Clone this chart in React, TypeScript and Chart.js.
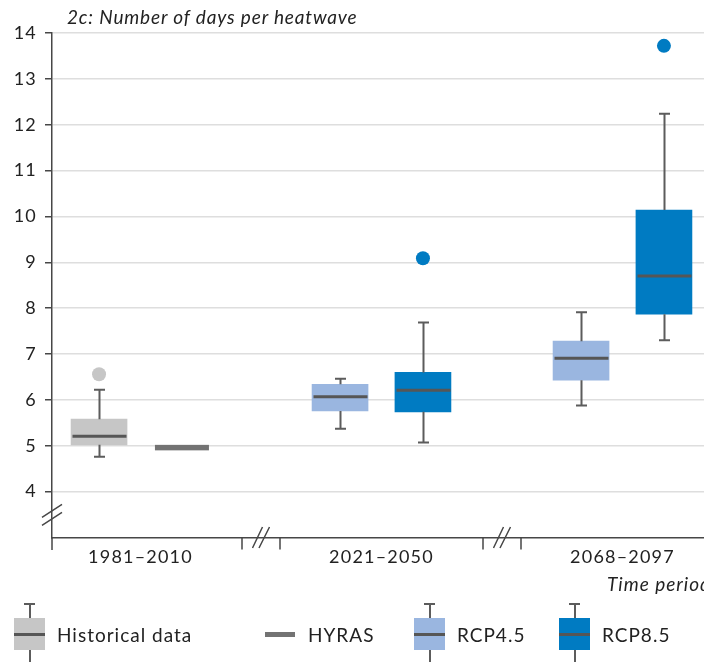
import React, { useEffect, useRef } from "react";
import { Chart, registerables } from "chart.js";

Chart.register(...registerables);

// ---------- data ----------
const periods = ["1981–2010", "2021–2050", "2068–2097"];
const yTickValues = [3, 4, 5, 6, 7, 8, 9, 10, 11, 12, 13, 14];

// box statistics per period: [min, q1, median, q3, max]
const historicalPeriods = [0];
const historicalStats = [[4.76, 5.02, 5.21, 5.58, 6.22]];
const historicalOutliers = [[6.56]];

const hyrasPeriods = [0];
const hyrasValues = [4.96];

const rcp45Periods = [1, 2];
const rcp45Stats = [
  [5.37, 5.76, 6.07, 6.34, 6.46],
  [5.88, 6.43, 6.91, 7.28, 7.91],
];
const rcp45Outliers: number[][] = [[], []];

const rcp85Periods = [1, 2];
const rcp85Stats = [
  [5.07, 5.74, 6.21, 6.6, 7.69],
  [7.3, 7.87, 8.7, 10.14, 12.24],
];
const rcp85Outliers = [[9.09], [13.72]];

const breakPositions = [0.5, 1.5];

// ---------- styles ----------
const FONT = "Lato, 'Noto Sans', sans-serif";
const TEXT = "#222222";
const AXIS = "#474747";
const GRID = "#dedede";
const WHISKER = "#5c5c5c";
const MEDIAN = "#565656";
const C_HIST = "#c6c6c6";
const C_HYRAS = "#737373";
const C_45 = "#9ab6e0";
const C_85 = "#007bc2";
const LEFT = -0.172;
const RIGHT = 0.172;
const BOX_W = 56;
const CAP_W = 11;

type BoxSeries = {
  periods: number[];
  stats: number[][];
  outliers: number[][];
  offset: number;
  color: string;
};

const boxSeries: BoxSeries[] = [
  { periods: historicalPeriods, stats: historicalStats, outliers: historicalOutliers, offset: LEFT, color: C_HIST },
  { periods: rcp45Periods, stats: rcp45Stats, outliers: rcp45Outliers, offset: LEFT, color: C_45 },
  { periods: rcp85Periods, stats: rcp85Stats, outliers: rcp85Outliers, offset: RIGHT, color: C_85 },
];

const extrasPlugin = {
  id: "boxExtras",
  beforeDraw(chart: any) {
    chart.ctx.letterSpacing = "1.2px";
  },
  afterDatasetsDraw(chart: any) {
    const { ctx, scales } = chart;
    const x = scales.x;
    const y = scales.y;
    ctx.save();
    boxSeries.forEach((s) => {
      s.stats.forEach((st, i) => {
        const xc = Math.round(x.getPixelForValue(s.periods[i] + s.offset)) + 0.5;
        const pMin = y.getPixelForValue(st[0]);
        const pQ1 = y.getPixelForValue(st[1]);
        const pMed = y.getPixelForValue(st[2]);
        const pQ3 = y.getPixelForValue(st[3]);
        const pMax = y.getPixelForValue(st[4]);
        ctx.strokeStyle = WHISKER;
        ctx.lineWidth = 2;
        ctx.beginPath();
        ctx.moveTo(xc, pQ3);
        ctx.lineTo(xc, pMax);
        ctx.moveTo(xc - CAP_W / 2, pMax);
        ctx.lineTo(xc + CAP_W / 2, pMax);
        ctx.moveTo(xc, pQ1);
        ctx.lineTo(xc, pMin);
        ctx.moveTo(xc - CAP_W / 2, pMin);
        ctx.lineTo(xc + CAP_W / 2, pMin);
        ctx.stroke();
        ctx.strokeStyle = MEDIAN;
        ctx.lineWidth = 3;
        ctx.beginPath();
        ctx.moveTo(xc - BOX_W / 2 + 1, pMed);
        ctx.lineTo(xc + BOX_W / 2 - 1, pMed);
        ctx.stroke();
      });
    });
    hyrasValues.forEach((v, i) => {
      const xc = x.getPixelForValue(hyrasPeriods[i] + RIGHT);
      const py = y.getPixelForValue(v);
      ctx.fillStyle = C_HYRAS;
      ctx.fillRect(xc - 27, py - 2.75, 54, 5.5);
    });
    ctx.restore();
  },
  afterDraw(chart: any) {
    const { ctx, chartArea, scales } = chart;
    const x = scales.x;
    const y = scales.y;
    const bottom = chartArea.bottom;
    const left = chartArea.left;
    ctx.save();
    ctx.strokeStyle = AXIS;
    ctx.lineWidth = 1.5;
    ctx.beginPath();
    ctx.moveTo(left, bottom);
    ctx.lineTo(left, bottom + 12.5);
    const yb = y.getPixelForValue(3.47);
    ctx.moveTo(left - 10, yb - 2.5 + 4);
    ctx.lineTo(left + 10, yb - 2.5 - 9);
    ctx.moveTo(left - 10, yb + 5.5 + 4);
    ctx.lineTo(left + 10, yb + 5.5 - 9);
    breakPositions.forEach((b) => {
      const xb = x.getPixelForValue(b);
      const t1 = Math.round(x.getPixelForValue(b - 0.08));
      const t2 = Math.round(x.getPixelForValue(b + 0.08));
      ctx.moveTo(t1, bottom);
      ctx.lineTo(t1, bottom + 12);
      ctx.moveTo(t2, bottom);
      ctx.lineTo(t2, bottom + 12);
      ctx.moveTo(xb - 8.5, bottom + 10.5);
      ctx.lineTo(xb + 1.5, bottom - 10.5);
      ctx.moveTo(xb - 2, bottom + 10.5);
      ctx.lineTo(xb + 8.5, bottom - 10.5);
    });
    ctx.stroke();
    ctx.restore();
  },
};

export default function App() {
  const canvasRef = useRef<HTMLCanvasElement | null>(null);

  useEffect(() => {
    if (!canvasRef.current) return;
    const datasets: any[] = [];
    boxSeries.forEach((s) => {
      datasets.push({
        type: "bar",
        data: s.stats.map((st, i) => ({ x: s.periods[i] + s.offset, y: [st[1], st[3]] })),
        backgroundColor: s.color,
        borderWidth: 0,
        barThickness: BOX_W,
        grouped: false,
        order: 2,
      });
      const pts: { x: number; y: number }[] = [];
      s.outliers.forEach((arr, i) => arr.forEach((v) => pts.push({ x: s.periods[i] + s.offset, y: v })));
      datasets.push({
        type: "scatter",
        data: pts,
        pointRadius: 7,
        pointBackgroundColor: s.color,
        pointBorderWidth: 0,
        order: 1,
      });
    });

    const chart = new Chart(canvasRef.current, {
      type: "bar",
      data: { datasets },
      options: {
        animation: false,
        responsive: false,
        events: [],
        layout: { autoPadding: false, padding: { top: 33, right: 0, bottom: 79.5, left: 0 } },
        plugins: { legend: { display: false }, tooltip: { enabled: false }, title: { display: false } },
        scales: {
          x: {
            type: "linear",
            min: -0.3672,
            max: 2.3382,
            offset: false,
            afterBuildTicks: (s: any) => {
              s.ticks = periods.map((_, i) => ({ value: i }));
            },
            afterFit: (s: any) => {
              s.height = 45;
            },
            ticks: {
              autoSkip: false,
              maxRotation: 0,
              padding: 9,
              color: TEXT,
              font: { family: FONT, size: 18 },
              callback: (v: any) => periods[v] ?? "",
            },
            grid: { display: false, drawTicks: false },
            border: { display: true, color: AXIS, width: 1.5 },
          },
          y: {
            type: "linear",
            min: 3,
            max: 14,
            afterBuildTicks: (s: any) => {
              s.ticks = yTickValues.map((v) => ({ value: v }));
            },
            afterFit: (s: any) => {
              s.width = 52;
            },
            ticks: {
              padding: 8,
              color: TEXT,
              font: { family: FONT, size: 18 },
              callback: (v: any) => (v === 3 ? "" : String(v)),
            },
            grid: {
              color: (c: any) => (c.tick && c.tick.value === 3 ? "rgba(0,0,0,0)" : GRID),
              lineWidth: 1.5,
              tickLength: 7,
              tickWidth: 1.5,
              tickColor: (c: any) => (c.tick && c.tick.value === 3 ? "rgba(0,0,0,0)" : AXIS),
            },
            border: { display: true, color: AXIS, width: 1.5 },
          },
        },
      } as any,
      plugins: [extrasPlugin],
    });
    return () => chart.destroy();
  }, []);

  const textStyle: React.CSSProperties = {
    position: "absolute",
    fontFamily: FONT,
    fontSize: 19,
    lineHeight: "19px",
    color: TEXT,
    whiteSpace: "nowrap",
    letterSpacing: "1px",
  };

  const boxIcon = (left: number, color: string) => (
    <>
      <div style={{ position: "absolute", left: left + 10, top: 603, width: 11, height: 2, background: WHISKER }} />
      <div style={{ position: "absolute", left: left + 14.5, top: 603, width: 2, height: 59, background: WHISKER }} />
      <div style={{ position: "absolute", left, top: 618, width: 31, height: 32, background: color }} />
      <div style={{ position: "absolute", left, top: 632.5, width: 31, height: 3, background: MEDIAN }} />
    </>
  );

  return (
    <div
      style={{
        position: "absolute",
        left: 0,
        top: 0,
        width: 704,
        height: 662,
        overflow: "hidden",
        background: "#fff",
      }}
    >
      <canvas ref={canvasRef} width={704} height={662} style={{ display: "block", width: 704, height: 662 }} />
      <div style={{ ...textStyle, left: 67, top: 7, fontStyle: "italic", letterSpacing: "0.85px" }}>2c: Number of days per heatwave</div>
      <div style={{ ...textStyle, left: 607, top: 574, fontStyle: "italic" }}>Time period</div>
      {boxIcon(14, C_HIST)}
      <div style={{ ...textStyle, left: 57, top: 624.5 }}>Historical data</div>
      <div style={{ position: "absolute", left: 265, top: 631.5, width: 30, height: 5, background: C_HYRAS }} />
      <div style={{ ...textStyle, left: 308, top: 624.5 }}>HYRAS</div>
      {boxIcon(414, C_45)}
      <div style={{ ...textStyle, left: 457, top: 624.5 }}>RCP4.5</div>
      {boxIcon(559, C_85)}
      <div style={{ ...textStyle, left: 602, top: 624.5 }}>RCP8.5</div>
    </div>
  );
}
